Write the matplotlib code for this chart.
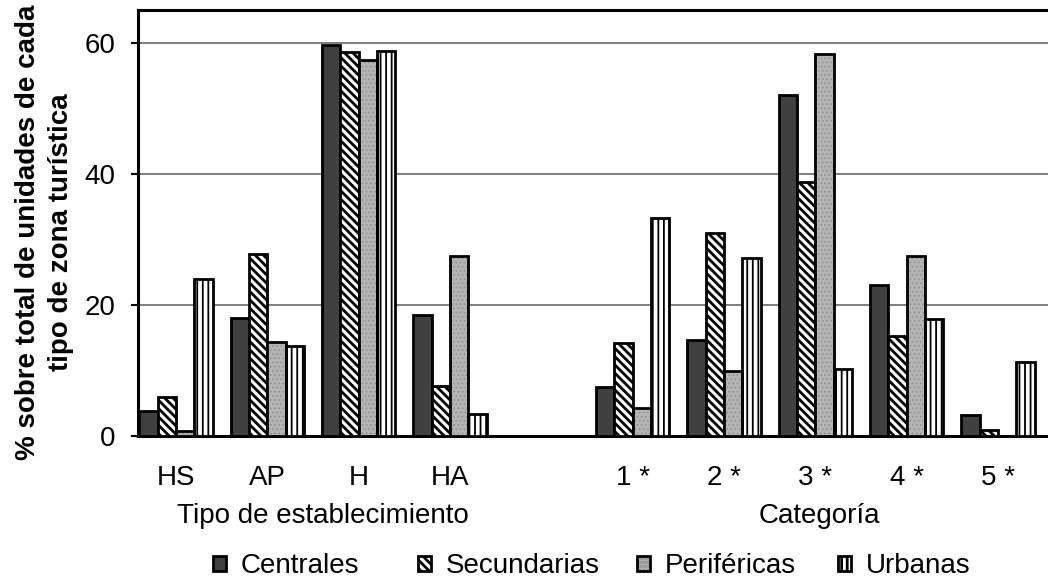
import numpy as np
import matplotlib
matplotlib.use("Agg")
import matplotlib.pyplot as plt
from matplotlib import transforms

plt.rcParams["font.family"] = ["Liberation Sans", "DejaVu Sans"]
plt.rcParams["hatch.linewidth"] = 2.0

# categories: establishment type, then star category (one empty slot between)
tipo_labels = ["HS", "AP", "H", "HA"]
cat_labels = ["1 *", "2 *", "3 *", "4 *", "5 *"]
series = ["Centrales", "Secundarias", "Periféricas", "Urbanas"]

centrales = [3.8, 18.0, 59.7, 18.5, 7.5, 14.6, 52.1, 23.0, 3.2]
secundarias = [6.0, 27.7, 58.6, 7.6, 14.2, 31.0, 38.8, 15.2, 0.9]
perifericas = [0.7, 14.4, 57.3, 27.5, 4.3, 9.9, 58.3, 27.4, 0.0]
urbanas = [24.0, 13.8, 58.7, 3.3, 33.3, 27.1, 10.2, 17.9, 11.3]

labels = tipo_labels + cat_labels
x = np.r_[np.arange(len(tipo_labels)), np.arange(len(cat_labels)) + len(tipo_labels) + 1]

W, H = 1048, 581
FS = 20
fig = plt.figure(figsize=(W / 100, H / 100), dpi=100)
ax = fig.add_axes([138 / W, 1 - 436 / H, (W - 138) / W, (436 - 10) / H])

bw = 0.2
lw = 2.0
kw = dict(width=bw, linewidth=lw, edgecolor="black", zorder=3)
b_c = ax.bar(x - 1.5 * bw, centrales, facecolor="#404040", **kw)
b_s = ax.bar(x - 0.5 * bw, secundarias, facecolor="white", hatch="\\\\\\\\", **kw)
# speckled grey: dotted texture under a black outline
p_fill = ax.bar(x + 0.5 * bw, perifericas, width=bw, facecolor="#b4b4b4",
                edgecolor="#8c8c8c", hatch="....", linewidth=0, zorder=3)
p_edge = ax.bar(x + 0.5 * bw, perifericas, width=bw, fill=False,
                edgecolor="black", linewidth=lw, zorder=3.5)
b_u = ax.bar(x + 1.5 * bw, urbanas, facecolor="white", hatch="|||", **kw)
for bars, hl in ((b_u, 1.3), (p_fill, 0.6)):
    for p in bars:
        if hasattr(p, "set_hatch_linewidth"):
            p.set_hatch_linewidth(hl)

ax.set_xlim(-(176 - 138) / 91.3, 9 + (W - 998) / 91.3)
ax.set_ylim(0, 65)
ax.set_yticks([0, 20, 40, 60])
ax.yaxis.grid(True, color="#5a5a5a", linewidth=1.1, zorder=0)
ax.set_axisbelow(True)
ax.set_xticks(x)
ax.set_xticklabels(labels)
ax.tick_params(axis="x", length=0, pad=21, labelsize=FS)
ax.tick_params(axis="y", length=5, width=1.5, pad=11, labelsize=FS, direction="out")
for s in ("top", "left", "bottom"):
    ax.spines[s].set_linewidth(2.2)
ax.spines["right"].set_visible(False)

tr = transforms.blended_transform_factory(ax.transData, fig.transFigure)
ax.text((323 - 176) / 91.3, 1 - 516 / H, "Tipo de establecimiento", transform=tr,
        ha="center", va="center", fontsize=FS)
ax.text((819 - 176) / 91.3, 1 - 516 / H, "Categoría", transform=tr,
        ha="center", va="center", fontsize=FS)

fig.text(45 / W, 1 - 232 / H, "% sobre total de unidades de cada\ntipo de zona turística",
         rotation=90, ha="center", va="center", multialignment="center",
         fontsize=FS, fontweight="bold", linespacing=1.35)

# legend entries placed one by one, like the original
handles = [b_c, b_s, (p_fill, p_edge), b_u]
for h, name, px in zip(handles, series, [213, 418, 637, 838]):
    fig.legend([h], [name], loc="center left",
               bbox_to_anchor=(px / W, 1 - 566 / H), bbox_transform=fig.transFigure,
               frameon=False, fontsize=FS, handlelength=0.45, handleheight=0.45,
               handletextpad=0.55, borderaxespad=0, borderpad=0)

fig.savefig("out.png", dpi=100)
